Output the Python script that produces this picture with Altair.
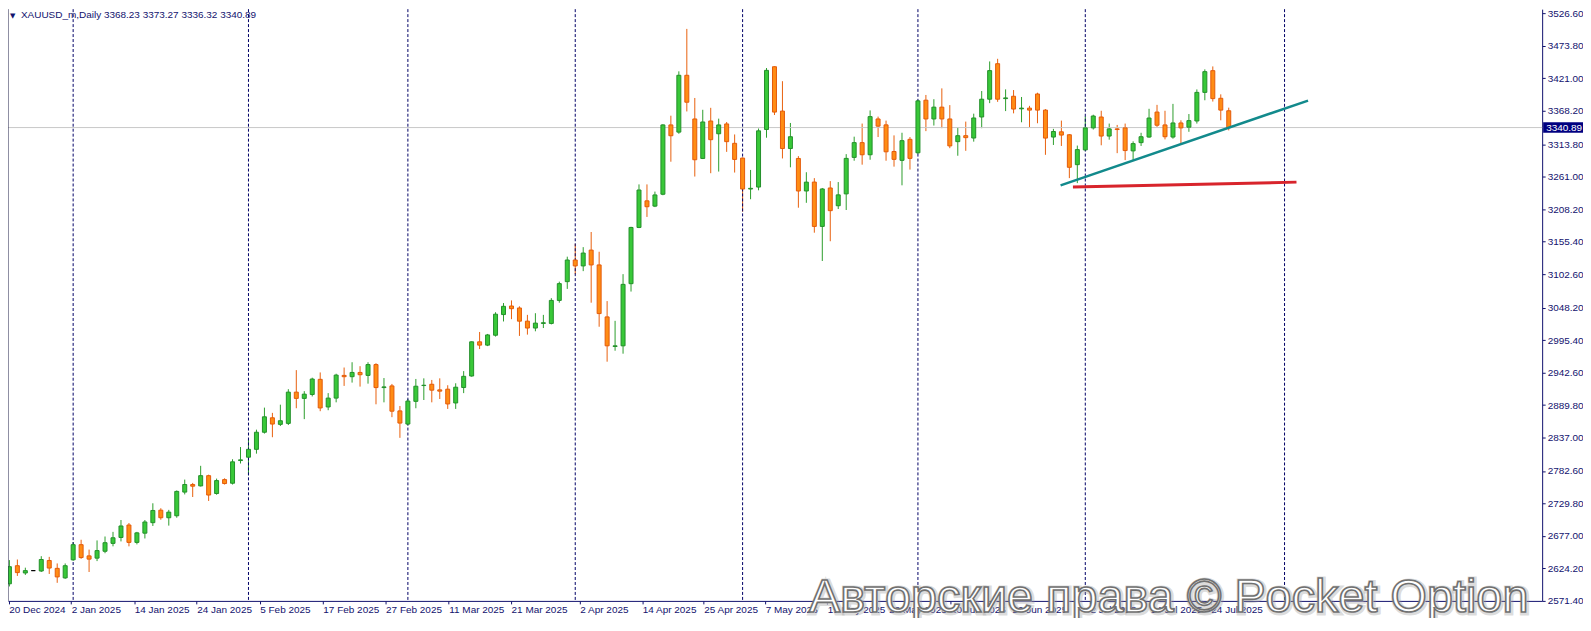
import json
import altair as alt
import pandas as pd

# ---------------- data ----------------
opens = [2599.2, 2628.6, 2616.8, 2620.6, 2620.0, 2637.1, 2624.3, 2608.8, 2638.2, 2662.8,
         2644.6, 2640.9, 2652.1, 2664.9, 2674.5, 2694.8, 2666.5, 2681.5, 2698.6, 2718.9,
         2706.6, 2709.8, 2748.3, 2760.6, 2758.4, 2775.0, 2746.0, 2768.6, 2762.7, 2799.6,
         2805.0, 2817.8, 2845.6, 2869.1, 2858.4, 2860.0, 2910.8, 2900.6, 2907.0, 2931.6,
         2886.7, 2901.1, 2938.0, 2935.9, 2942.8, 2938.0, 2955.6, 2918.2, 2920.9, 2880.3,
         2858.9, 2895.8, 2921.5, 2923.6, 2914.5, 2915.6, 2893.2, 2918.3, 2937.0, 2992.6,
         2987.2, 3003.3, 3036.9, 3050.8, 3047.6, 3026.2, 3015.0, 3022.5, 3022.5, 3059.9,
         3090.4, 3125.6, 3116.0, 3141.7, 3117.6, 3033.1, 2985.0, 2986.1, 3087.1, 3178.5,
         3221.8, 3213.2, 3232.5, 3345.2, 3333.5, 3425.9, 3354.9, 3290.7, 3351.6, 3330.8,
         3346.8, 3315.3, 3291.3, 3241.0, 3244.2, 3337.8, 3439.8, 3367.7, 3306.8, 3290.7,
         3237.8, 3252.3, 3180.2, 3242.7, 3213.8, 3233.1, 3292.4, 3316.4, 3296.7, 3354.9,
         3345.3, 3302.0, 3287.6, 3321.8, 3299.9, 3385.4, 3354.9, 3374.1, 3354.9, 3318.0,
         3327.7, 3323.9, 3358.1, 3387.0, 3444.7, 3388.0, 3391.8, 3371.4, 3372.5, 3395.5,
         3369.3, 3325.5, 3334.0, 3329.2, 3280.6, 3304.6, 3340.4, 3358.1, 3327.1, 3338.8,
         3340.4, 3303.0, 3316.4, 3325.5, 3366.1, 3345.2, 3325.5, 3348.4, 3341.5, 3351.6,
         3398.1, 3433.4, 3388.5, 3368.23]
highs = [2637.7, 2638.7, 2625.4, 2620.6, 2644.1, 2643.0, 2632.3, 2632.3, 2667.1, 2670.8,
         2654.8, 2669.7, 2676.1, 2683.6, 2702.9, 2698.0, 2683.6, 2702.9, 2730.1, 2722.1,
         2719.4, 2751.0, 2768.6, 2763.2, 2791.0, 2776.6, 2770.2, 2770.7, 2801.7, 2821.5,
         2834.3, 2849.8, 2885.6, 2877.1, 2890.4, 2915.6, 2946.6, 2912.4, 2934.3, 2942.8,
         2909.2, 2940.7, 2950.8, 2959.4, 2953.0, 2959.4, 2957.8, 2933.7, 2924.1, 2888.3,
         2899.5, 2932.2, 2933.2, 2930.6, 2933.2, 2922.0, 2925.2, 2945.0, 2993.1, 3008.6,
         3005.4, 3040.7, 3055.6, 3059.9, 3050.3, 3036.4, 3039.1, 3036.4, 3063.6, 3090.4,
         3131.0, 3151.8, 3146.5, 3171.1, 3139.0, 3058.8, 3026.7, 3102.6, 3179.6, 3248.5,
         3248.5, 3236.8, 3346.3, 3360.2, 3432.3, 3501.3, 3389.0, 3369.8, 3373.0, 3355.4,
         3350.0, 3329.7, 3292.3, 3272.0, 3339.4, 3437.7, 3440.4, 3416.3, 3348.4, 3294.5,
         3268.3, 3258.7, 3242.7, 3253.9, 3252.3, 3297.7, 3326.1, 3347.4, 3368.8, 3358.7,
         3352.2, 3328.2, 3332.5, 3325.5, 3385.9, 3393.9, 3387.0, 3404.6, 3377.4, 3341.0,
         3350.6, 3363.5, 3400.3, 3448.4, 3452.7, 3403.0, 3401.9, 3390.6, 3376.2, 3397.6,
         3370.9, 3338.8, 3352.2, 3330.3, 3311.6, 3359.1, 3361.8, 3368.2, 3347.4, 3345.2,
         3347.4, 3318.5, 3332.4, 3371.4, 3377.8, 3368.2, 3379.4, 3352.7, 3362.9, 3402.9,
         3435.5, 3440.3, 3394.9, 3373.27]
lows = [2594.9, 2612.0, 2613.6, 2620.6, 2618.4, 2615.2, 2600.8, 2607.2, 2636.6, 2639.8,
        2618.4, 2636.1, 2648.9, 2660.1, 2668.1, 2660.1, 2663.3, 2672.9, 2693.2, 2703.4,
        2693.8, 2706.6, 2744.5, 2740.3, 2757.4, 2733.9, 2744.0, 2760.6, 2760.6, 2794.8,
        2775.6, 2810.8, 2843.4, 2837.5, 2855.7, 2857.3, 2884.6, 2866.9, 2903.8, 2879.8,
        2881.4, 2894.2, 2920.9, 2926.3, 2919.8, 2924.6, 2891.0, 2894.2, 2870.1, 2836.5,
        2856.8, 2884.6, 2898.0, 2894.2, 2899.6, 2883.5, 2883.5, 2909.2, 2935.9, 2980.8,
        2985.6, 3001.1, 3025.7, 3029.4, 3002.2, 3004.3, 3009.7, 3015.0, 3020.9, 3056.2,
        3078.6, 3102.6, 3107.5, 3056.2, 3017.1, 2960.3, 2978.1, 2973.3, 3074.3, 3177.4,
        3195.6, 3211.6, 3230.9, 3285.4, 3330.8, 3367.1, 3261.3, 3289.7, 3266.7, 3269.4,
        3301.4, 3267.8, 3204.1, 3224.4, 3238.9, 3324.4, 3361.3, 3290.7, 3276.3, 3210.6,
        3218.6, 3170.0, 3124.0, 3156.1, 3208.5, 3206.9, 3287.0, 3280.6, 3288.6, 3325.5,
        3287.0, 3277.4, 3247.0, 3272.6, 3297.7, 3335.1, 3344.2, 3339.9, 3307.4, 3295.1,
        3303.1, 3318.0, 3339.9, 3380.6, 3382.7, 3367.7, 3364.0, 3349.5, 3341.5, 3347.9,
        3296.6, 3312.6, 3311.0, 3258.7, 3250.6, 3303.0, 3337.7, 3312.1, 3321.2, 3299.3,
        3288.0, 3288.0, 3311.0, 3324.4, 3342.0, 3321.7, 3322.8, 3315.3, 3334.0, 3347.4,
        3385.3, 3383.2, 3352.7, 3336.32]
closes = [2627.0, 2617.4, 2620.6, 2620.6, 2638.7, 2624.8, 2610.4, 2628.6, 2662.8, 2641.9,
          2639.3, 2653.2, 2666.0, 2674.0, 2693.2, 2666.5, 2682.0, 2699.7, 2718.4, 2706.6,
          2715.7, 2749.4, 2760.6, 2757.9, 2775.0, 2743.5, 2767.0, 2762.2, 2797.5, 2800.7,
          2817.8, 2845.6, 2870.7, 2858.9, 2864.3, 2910.8, 2900.6, 2907.5, 2932.1, 2885.1,
          2901.1, 2938.5, 2935.9, 2942.8, 2939.1, 2955.6, 2918.2, 2919.3, 2879.8, 2860.5,
          2896.3, 2920.4, 2922.0, 2914.0, 2912.4, 2891.6, 2918.8, 2936.5, 2992.6, 2987.2,
          3003.8, 3037.5, 3050.3, 3046.5, 3026.2, 3015.0, 3023.0, 3023.6, 3059.9, 3087.2,
          3125.6, 3116.0, 3136.9, 3117.6, 3038.5, 2986.1, 2986.1, 3086.0, 3178.5, 3239.4,
          3212.2, 3231.4, 3345.2, 3327.6, 3425.9, 3382.1, 3288.6, 3350.0, 3321.2, 3345.2,
          3318.0, 3289.1, 3241.0, 3242.1, 3335.6, 3433.9, 3366.1, 3306.8, 3326.0, 3237.8,
          3252.2, 3180.2, 3241.1, 3205.8, 3231.5, 3290.8, 3316.4, 3296.7, 3358.7, 3343.2,
          3301.5, 3289.2, 3319.6, 3290.8, 3384.3, 3354.9, 3374.1, 3354.9, 3311.1, 3327.7,
          3324.5, 3356.5, 3387.0, 3433.5, 3387.0, 3389.1, 3371.0, 3372.5, 3369.3, 3369.3,
          3323.8, 3334.5, 3328.7, 3276.3, 3305.1, 3340.4, 3359.7, 3327.1, 3338.8, 3337.7,
          3303.5, 3314.8, 3326.0, 3356.4, 3344.7, 3326.0, 3348.4, 3340.4, 3352.2, 3398.1,
          3431.8, 3388.0, 3369.3, 3340.89]

# x-axis date labels and where they sit (in bar units)
x_labels = ["20 Dec 2024", "2 Jan 2025", "14 Jan 2025", "24 Jan 2025", "5 Feb 2025",
            "17 Feb 2025", "27 Feb 2025", "11 Mar 2025", "21 Mar 2025", "2 Apr 2025",
            "14 Apr 2025", "25 Apr 2025", "7 May 2025", "19 May 2025", "29 May 2025",
            "10 Jun 2025", "20 Jun 2025", "2 Jul 2025", "14 Jul 2025", "24 Jul 2025"]
x_label_pos = [-0.09, 7.75, 15.66, 23.5, 31.41, 39.33, 47.2, 55.13, 62.95, 71.58,
               79.41, 87.13, 94.83, 102.63, 110.33, 118.08, 125.79, 135.58, 143.16, 150.75]

# y-axis tick labels
y_ticks = [2571.40, 2624.20, 2677.00, 2729.80, 2782.60, 2837.00, 2889.80, 2942.60, 2995.40,
           3048.20, 3102.60, 3155.40, 3208.20, 3261.00, 3313.80, 3368.20, 3421.00, 3473.80,
           3526.60]

# month separators (bar index of first bar of each month)
month_sep = [8, 30, 50, 71, 92, 114, 135, 160]

# trend lines (bar index, price)
teal_x = [131.9, 162.95]
teal_y = [3246.9, 3384.8]
red_x = [133.45, 161.5]
red_y = [3244.2, 3252.2]

last_price = 3340.89
symbol_text = "XAUUSD_m,Daily  3368.23 3373.27 3336.32 3340.89"
watermark = "Авторские права © Pocket Option"

# ---------------- chart ----------------
W, H = 1540, 594
NAVY = "#12126e"
FONT = "Liberation Sans"

n = len(opens)
df = pd.DataFrame({"i": list(range(n)), "open": opens, "high": highs,
                   "low": lows, "close": closes})
df["dir"] = ["up" if c > o else ("down" if c < o else "flat") for o, c in zip(opens, closes)]

xs = alt.Scale(domain=[-0.175, -0.175 + W / 8], nice=False, zero=False, padding=0)
ys = alt.Scale(domain=[2571.4, 3533.4], nice=False, zero=False, padding=0)
dirs = ["up", "down", "flat"]

label_expr = f"{json.dumps(x_labels)}[indexof({json.dumps(x_label_pos)}, datum.value)]"

x_axis = alt.Axis(values=x_label_pos, labelExpr=label_expr, grid=False, title=None,
                  orient="bottom", domainColor=NAVY, tickColor=NAVY, tickSize=3,
                  labelColor=NAVY, labelFont=FONT, labelFontSize=10, labelAlign="left",
                  labelBaseline="top", labelPadding=1, labelFlush=False, labelOverlap=False)
y_axis = alt.Axis(values=y_ticks, format=".2f", orient="right", grid=False, title=None,
                  domainColor=NAVY, tickColor=NAVY, tickSize=3, labelColor=NAVY,
                  labelFont=FONT, labelFontSize=10, labelPadding=2, labelFlush=False,
                  labelOverlap=False)


def X(field):
    return alt.X(field, scale=xs, axis=x_axis)


def Y(field):
    return alt.Y(field, scale=ys, axis=y_axis)


base = alt.Chart(df)

wicks = base.mark_rule(strokeWidth=1).encode(
    x=X("i:Q"),
    y=Y("low:Q"),
    y2="high:Q",
    color=alt.Color("dir:N", scale=alt.Scale(domain=dirs, range=["#2c9e2c", "#e8600e", "#000000"]),
                    legend=None),
)

bodies = base.mark_bar(size=4, strokeWidth=1).encode(
    x=X("i:Q"),
    y=Y("open:Q"),
    y2="close:Q",
    fill=alt.Fill("dir:N", scale=alt.Scale(domain=dirs, range=["#38c838", "#ff8c14", "#000000"]),
                  legend=None),
    stroke=alt.Stroke("dir:N", scale=alt.Scale(domain=dirs, range=["#23902a", "#e45a0a", "#000000"]),
                      legend=None),
)

seps = alt.Chart(pd.DataFrame({"s": month_sep})).mark_rule(
    color="#000066", strokeDash=[3, 2], strokeWidth=1
).encode(x=X("s:Q"))

price_df = pd.DataFrame({"p": [last_price], "t": [f"{last_price:.2f}"]})
price_line = alt.Chart(price_df).mark_rule(color="#c8c8c8", strokeWidth=1).encode(y=Y("p:Q"))

price_box = alt.Chart(price_df).transform_calculate(
    lo="datum.p - 8.5", hi="datum.p + 8.5"
).mark_rect(color="#000080").encode(
    x=alt.value(W + 1), x2=alt.value(W + 41), y=Y("lo:Q"), y2="hi:Q")
price_text = alt.Chart(price_df).mark_text(
    color="white", align="left", baseline="middle", font=FONT, fontSize=10
).encode(x=alt.value(W + 4), y=Y("p:Q"), text="t:N")

teal = alt.Chart(pd.DataFrame({"x": [teal_x[0]], "x2": [teal_x[1]],
                               "y": [teal_y[0]], "y2": [teal_y[1]]})).mark_rule(
    color="#128a8c", strokeWidth=2.5).encode(
    x=X("x:Q"), x2="x2:Q", y=Y("y:Q"), y2="y2:Q")
red = alt.Chart(pd.DataFrame({"x": [red_x[0]], "x2": [red_x[1]],
                              "y": [red_y[0]], "y2": [red_y[1]]})).mark_rule(
    color="#d8242c", strokeWidth=3).encode(
    x=X("x:Q"), x2="x2:Q", y=Y("y:Q"), y2="y2:Q")

left_border = alt.Chart(pd.DataFrame({"a": [0]})).mark_rule(color="#1e1e46", strokeWidth=1).encode(
    x=alt.value(0), y=alt.value(0), y2=alt.value(H))

title_df = pd.DataFrame({"t": [symbol_text], "m": ["▼"]})
title_txt = alt.Chart(title_df).mark_text(
    color=NAVY, align="left", baseline="top", font=FONT, fontSize=10
).encode(x=alt.value(13), y=alt.value(1), text="t:N")
title_tri = alt.Chart(title_df).mark_text(
    color=NAVY, align="left", baseline="top", font="DejaVu Sans", fontSize=7
).encode(x=alt.value(2), y=alt.value(3), text="m:N")

wm_df = pd.DataFrame({"t": [watermark]})
wm_shadow = alt.Chart(wm_df).mark_text(
    align="left", baseline="alphabetic", font=FONT, fontSize=47,
    fill="#ffffff", stroke="#9a9a9a", strokeWidth=5, strokeOpacity=0.35
).encode(x=alt.value(805), y=alt.value(606), text="t:N")
wm_text = alt.Chart(wm_df).mark_text(
    align="left", baseline="alphabetic", font=FONT, fontSize=47,
    fill="#ffffff", stroke="#707070", strokeWidth=1.6
).encode(x=alt.value(804), y=alt.value(605), text="t:N")

chart = alt.layer(
    wicks, seps, price_line, bodies, teal, red, left_border,
    price_box, price_text, title_tri, title_txt, wm_shadow, wm_text
).properties(
    width=W, height=H,
    autosize=alt.AutoSizeParams(type="none"),
    padding={"left": 0, "top": 0, "right": 41, "bottom": 16},
).configure_view(strokeWidth=0)

chart.save("out.html", embed_options={"renderer": "svg", "actions": False})
